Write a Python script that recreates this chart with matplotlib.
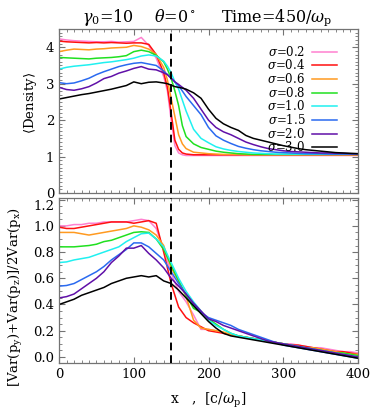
import matplotlib
matplotlib.use("Agg")
import matplotlib.pyplot as plt
from matplotlib.ticker import MultipleLocator, FormatStrFormatter

plt.rcParams['font.family'] = 'DejaVu Serif'
plt.rcParams['mathtext.fontset'] = 'dejavuserif'

# sigma values and line colours
sigmas = ['0.2', '0.4', '0.6', '0.8', '1.0', '1.5', '2.0', '3.0']
colors = ['#ff80d0', '#ff1010', '#ff9a20', '#20e020', '#20f0f0', '#2a6af0', '#6010a8', '#000000']

# top panel: <Density> vs x
x_top = [0, 10, 20, 30, 40, 50, 60, 70, 80, 90, 100, 110, 120, 130, 140, 145, 150, 155, 160, 165,
         170, 180, 190, 200, 210, 220, 230, 240, 250, 260, 270, 280, 290, 300, 310, 320, 330, 340,
         350, 360, 370, 380, 390, 400]
dens_02 = [4.23, 4.2, 4.18, 4.17, 4.16, 4.15, 4.15, 4.16, 4.14, 4.15, 4.16, 4.27, 4.05, 3.7, 3.2, 2.8,
           2.0, 1.3, 1.1, 1.05, 1.03, 1.03, 1.03, 1.03, 1.03, 1.03, 1.03, 1.03, 1.03, 1.03, 1.03, 1.03,
           1.03, 1.03, 1.03, 1.03, 1.03, 1.03, 1.03, 1.03, 1.03, 1.03, 1.03, 1.03]
dens_04 = [4.17, 4.15, 4.14, 4.13, 4.12, 4.13, 4.12, 4.13, 4.12, 4.11, 4.12, 4.12, 4.08, 3.8, 3.3, 2.9,
           2.2, 1.45, 1.2, 1.1, 1.07, 1.05, 1.05, 1.05, 1.05, 1.05, 1.05, 1.05, 1.05, 1.05, 1.05, 1.05,
           1.05, 1.05, 1.05, 1.05, 1.05, 1.05, 1.05, 1.05, 1.05, 1.05, 1.05, 1.05]
dens_06 = [3.88, 3.92, 3.95, 3.94, 3.93, 3.95, 3.96, 3.98, 3.99, 4.0, 4.05, 4.02, 3.95, 3.8, 3.45, 3.1,
           2.6, 2.1, 1.6, 1.35, 1.22, 1.12, 1.1, 1.08, 1.07, 1.06, 1.06, 1.06, 1.05, 1.05, 1.05, 1.05,
           1.05, 1.05, 1.05, 1.05, 1.05, 1.05, 1.05, 1.05, 1.05, 1.05, 1.05, 1.05]
dens_08 = [3.72, 3.71, 3.7, 3.69, 3.68, 3.7, 3.71, 3.72, 3.74, 3.77, 3.88, 3.92, 3.88, 3.78, 3.6, 3.4,
           3.15, 2.8, 2.4, 1.85, 1.55, 1.35, 1.25, 1.2, 1.15, 1.12, 1.1, 1.08, 1.07, 1.06, 1.06, 1.06,
           1.06, 1.06, 1.06, 1.06, 1.06, 1.06, 1.06, 1.06, 1.06, 1.06, 1.06, 1.06]
dens_10 = [3.4, 3.45, 3.48, 3.5, 3.52, 3.55, 3.58, 3.6, 3.63, 3.66, 3.7, 3.76, 3.79, 3.76, 3.62, 3.48,
           3.3, 3.05, 2.85, 2.55, 2.25, 1.75, 1.5, 1.38, 1.27, 1.21, 1.17, 1.14, 1.12, 1.1, 1.09, 1.08,
           1.07, 1.07, 1.07, 1.07, 1.07, 1.07, 1.07, 1.07, 1.07, 1.07, 1.07, 1.07]
dens_15 = [3.03, 3.0, 3.02, 3.08, 3.15, 3.25, 3.33, 3.4, 3.47, 3.52, 3.56, 3.58, 3.54, 3.5, 3.35, 3.25,
           3.15, 3.05, 2.95, 2.8, 2.65, 2.4, 2.15, 1.8, 1.57, 1.45, 1.36, 1.28, 1.23, 1.19, 1.16, 1.14,
           1.12, 1.11, 1.1, 1.09, 1.08, 1.08, 1.08, 1.07, 1.07, 1.07, 1.07, 1.07]
dens_20 = [2.9, 2.84, 2.82, 2.86, 2.92, 3.02, 3.14, 3.2, 3.29, 3.35, 3.42, 3.47, 3.4, 3.38, 3.3, 3.25,
           3.15, 3.05, 2.98, 2.9, 2.82, 2.6, 2.3, 2.0, 1.8, 1.68, 1.6, 1.5, 1.4, 1.33, 1.27, 1.22,
           1.19, 1.16, 1.14, 1.13, 1.12, 1.11, 1.1, 1.1, 1.09, 1.09, 1.08, 1.08]
dens_30 = [2.58, 2.62, 2.66, 2.7, 2.73, 2.77, 2.81, 2.85, 2.9, 2.95, 3.05, 3.0, 3.04, 3.05, 3.02, 3.0,
           2.96, 2.92, 2.9, 2.88, 2.85, 2.75, 2.6, 2.3, 2.05, 1.9, 1.8, 1.72, 1.58, 1.5, 1.45, 1.4,
           1.35, 1.3, 1.26, 1.22, 1.19, 1.17, 1.15, 1.13, 1.11, 1.1, 1.09, 1.08]

# bottom panel: anisotropy vs x
x_bot = [0, 10, 20, 30, 40, 50, 60, 70, 80, 90, 100, 110, 120, 130, 140, 150, 160, 170, 180, 190,
         200, 210, 220, 230, 240, 250, 260, 270, 280, 290, 300, 310, 320, 330, 340, 350, 360, 370,
         380, 390, 400]
aniso_02 = [1.0, 1.0, 1.01, 1.01, 1.02, 1.02, 1.03, 1.03, 1.03, 1.03, 1.04, 1.05, 1.04, 0.98, 0.82, 0.64,
            0.5, 0.42, 0.32, 0.21, 0.21, 0.2, 0.18, 0.17, 0.16, 0.15, 0.14, 0.13, 0.12, 0.11, 0.1, 0.1,
            0.09, 0.08, 0.07, 0.07, 0.06, 0.05, 0.04, 0.04, 0.03]
aniso_04 = [0.99, 0.98, 0.98, 0.99, 1.0, 1.01, 1.02, 1.03, 1.03, 1.03, 1.02, 1.03, 1.04, 1.02, 0.8, 0.56,
            0.38, 0.3, 0.26, 0.23, 0.2, 0.19, 0.18, 0.17, 0.16, 0.15, 0.14, 0.13, 0.12, 0.11, 0.1, 0.09,
            0.09, 0.08, 0.07, 0.06, 0.05, 0.04, 0.04, 0.03, 0.02]
aniso_06 = [0.95, 0.95, 0.95, 0.94, 0.93, 0.94, 0.95, 0.96, 0.97, 0.98, 1.0, 0.99, 0.97, 0.93, 0.85, 0.68,
            0.58, 0.46, 0.28, 0.22, 0.21, 0.2, 0.19, 0.17, 0.16, 0.15, 0.14, 0.13, 0.12, 0.11, 0.1, 0.09,
            0.08, 0.07, 0.07, 0.06, 0.05, 0.04, 0.03, 0.02, 0.02]
aniso_08 = [0.84, 0.84, 0.84, 0.845, 0.85, 0.86, 0.88, 0.89, 0.91, 0.93, 0.95, 0.955, 0.95, 0.9, 0.82, 0.7,
            0.58, 0.47, 0.37, 0.34, 0.29, 0.25, 0.21, 0.18, 0.16, 0.15, 0.14, 0.13, 0.12, 0.11, 0.1, 0.09,
            0.08, 0.07, 0.06, 0.05, 0.04, 0.03, 0.03, 0.02, 0.01]
aniso_10 = [0.72, 0.725, 0.74, 0.75, 0.76, 0.78, 0.8, 0.82, 0.84, 0.88, 0.91, 0.94, 0.945, 0.9, 0.84, 0.72,
            0.6, 0.5, 0.42, 0.35, 0.28, 0.24, 0.21, 0.18, 0.16, 0.15, 0.14, 0.13, 0.12, 0.11, 0.1, 0.09,
            0.08, 0.07, 0.06, 0.05, 0.04, 0.03, 0.02, 0.01, 0.0]
aniso_15 = [0.54, 0.545, 0.56, 0.59, 0.62, 0.65, 0.69, 0.74, 0.78, 0.82, 0.87, 0.87, 0.84, 0.79, 0.74, 0.65,
            0.56, 0.48, 0.4, 0.34, 0.3, 0.28, 0.26, 0.24, 0.21, 0.19, 0.17, 0.15, 0.13, 0.11, 0.09, 0.08,
            0.07, 0.06, 0.05, 0.04, 0.03, 0.02, 0.01, 0.0, -0.01]
aniso_20 = [0.45, 0.46, 0.48, 0.52, 0.56, 0.6, 0.65, 0.72, 0.77, 0.83, 0.83, 0.85, 0.79, 0.74, 0.68, 0.6,
            0.54, 0.48, 0.41, 0.35, 0.29, 0.27, 0.24, 0.22, 0.2, 0.18, 0.16, 0.14, 0.12, 0.11, 0.1, 0.09,
            0.08, 0.07, 0.06, 0.05, 0.04, 0.03, 0.02, 0.01, 0.0]
aniso_30 = [0.4, 0.42, 0.44, 0.47, 0.49, 0.51, 0.53, 0.56, 0.58, 0.6, 0.61, 0.62, 0.61, 0.62, 0.58, 0.56,
            0.51, 0.45, 0.39, 0.33, 0.27, 0.22, 0.18, 0.16, 0.15, 0.14, 0.13, 0.12, 0.11, 0.1, 0.09, 0.08,
            0.07, 0.06, 0.05, 0.04, 0.03, 0.02, 0.01, 0.0, -0.01]

density = [dens_02, dens_04, dens_06, dens_08, dens_10, dens_15, dens_20, dens_30]
aniso = [aniso_02, aniso_04, aniso_06, aniso_08, aniso_10, aniso_15, aniso_20, aniso_30]

fig = plt.figure(figsize=(3.74, 4.09), dpi=100)
ax1 = fig.add_axes([0.158, 0.528, 0.799, 0.401])
ax2 = fig.add_axes([0.158, 0.113, 0.799, 0.402])

frame = '0.45'
for ax in (ax1, ax2):
    ax.set_xlim(0, 400)
    ax.xaxis.set_major_locator(MultipleLocator(100))
    ax.xaxis.set_minor_locator(MultipleLocator(10))
    ax.tick_params(which='both', direction='in', top=True, right=True, color=frame, labelsize=9.5)
    ax.tick_params(which='major', length=4, width=0.8)
    ax.tick_params(which='minor', length=2, width=0.6)
    for s in ax.spines.values():
        s.set_color(frame)
        s.set_linewidth(0.9)
    ax.axvline(150, color='black', ls=(0, (4, 2.5)), lw=1.4, zorder=5)

for s, c, y in zip(sigmas, colors, density):
    ax1.plot(x_top, y, color=c, lw=1.1, label=r'$\sigma$=' + s)
for c, y in zip(colors, aniso):
    ax2.plot(x_bot, y, color=c, lw=1.1)

ax1.set_ylim(0, 4.5)
ax1.yaxis.set_major_locator(MultipleLocator(1))
ax1.yaxis.set_minor_locator(MultipleLocator(0.1))
ax1.set_xticklabels([])
ax1.set_ylabel(r'$\langle$Density$\rangle$', fontsize=9.5, va='center')
ax1.yaxis.set_label_coords(-0.097, 0.55)

ax2.set_ylim(-0.045, 1.21)
ax2.yaxis.set_major_locator(MultipleLocator(0.2))
ax2.yaxis.set_minor_locator(MultipleLocator(0.05))
ax2.yaxis.set_major_formatter(FormatStrFormatter('%.1f'))
ax2.set_ylabel(r'[Var(p$_\mathrm{y}$)+Var(p$_\mathrm{z}$)]/2Var(p$_\mathrm{x}$)', fontsize=9.5, va='center')
ax2.yaxis.set_label_coords(-0.145, 0.4)
ax2.set_xlabel(r'x   ,  [c/$\omega_\mathrm{p}$]', fontsize=10)
ax2.xaxis.set_label_coords(0.5, -0.17)

# keep the end labels of the two panels apart, as in the original
fig.canvas.draw()
ax1.get_yticklabels()[0].set_va('bottom')
for t in ax2.get_yticklabels():
    if t.get_text() == '1.2':
        t.set_va('top')

ax1.legend(loc='upper right', bbox_to_anchor=(0.95, 0.94), frameon=False, markerfirst=False,
           fontsize=8.5, handlelength=2.1, handletextpad=0.6, labelspacing=-0.03, borderpad=0)

fig.text(0.289, 0.958, r'$\gamma_0$=10', ha='center', va='center', fontsize=11.5)
fig.text(0.468, 0.958, r'$\theta$=0$^\circ$', ha='center', va='center', fontsize=11.5)
fig.text(0.74, 0.958, r'Time=450/$\omega_\mathrm{p}$', ha='center', va='center', fontsize=11.5)

fig.savefig('out.png', dpi=100)
